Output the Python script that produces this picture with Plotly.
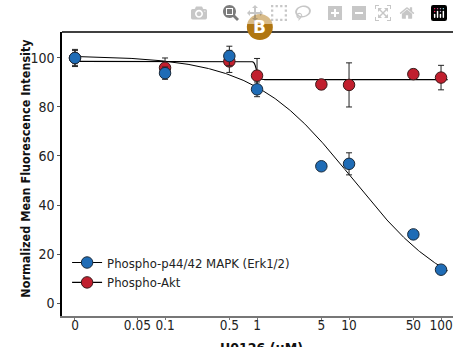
import numpy as np
import plotly.graph_objects as go

# ---- data ----
conc_labels = ["0", "0.1", "0.5", "1", "5", "10", "50", "100"]
conc = [0, 0.1, 0.5, 1, 5, 10, 50, 100]
mapk = [100.0, 93.8, 100.8, 87.2, 55.8, 56.8, 28.0, 13.6]
mapk_err = [3.5, 2.5, 4.0, 3.0, 1.0, 4.5, 1.5, 1.5]
akt = [100.0, 96.0, 98.6, 92.8, 89.2, 89.0, 93.4, 92.0]
akt_err = [3.0, 4.0, 4.5, 7.0, 2.0, 9.0, 2.0, 5.0]

tick_vals_um = [0, 0.05, 0.1, 0.5, 1, 5, 10, 50, 100]
tick_text = ["0", "0.05", "0.1", "0.5", "1", "5", "10", "50", "100"]
y_ticks = [0, 20, 40, 60, 80, 100]

# fitted curve parameters (4PL)
mapk_fit = dict(top=101.0, bottom=0.0, ic50=11.0, hill=0.8)
akt_fit = dict(top=98.6, bottom=91.2, ic50=0.985, hill=40.0)

ZERO_POS = 0.0105  # where "0" sits on the log axis
BLUE = "#1f6cb6"
RED = "#c11f2e"
FONT = "DejaVu Sans Condensed, Liberation Sans Narrow, sans-serif"


def pos(v):
    return ZERO_POS if v == 0 else v


def logistic(x, p):
    return p["bottom"] + (p["top"] - p["bottom"]) / (1 + (x / p["ic50"]) ** p["hill"])


xs = np.logspace(np.log10(ZERO_POS), np.log10(118), 400)

fig = go.Figure()
fig.add_trace(go.Scatter(x=xs, y=logistic(xs, mapk_fit), mode="lines",
                         line=dict(color="black", width=1), showlegend=False, hoverinfo="skip"))
fig.add_trace(go.Scatter(x=xs, y=logistic(xs, akt_fit), mode="lines",
                         line=dict(color="black", width=1.2), showlegend=False, hoverinfo="skip"))

xp = [pos(v) for v in conc]
fig.add_trace(go.Scatter(x=xp, y=akt, mode="markers",
                         marker=dict(color=RED, size=11.5, line=dict(color="#3a1a1a", width=1)),
                         error_y=dict(type="data", array=akt_err, color="#222", thickness=1, width=3),
                         showlegend=False))
fig.add_trace(go.Scatter(x=xp, y=mapk, mode="markers",
                         marker=dict(color=BLUE, size=11.5, line=dict(color="#1a2a3a", width=1)),
                         error_y=dict(type="data", array=mapk_err, color="#222", thickness=1, width=3),
                         showlegend=False))

# legend entries
fig.add_trace(go.Scatter(x=[None], y=[None], mode="lines+markers", name="Phospho-p44/42 MAPK (Erk1/2)",
                         line=dict(color="black", width=1.2),
                         marker=dict(color=BLUE, size=11.5, line=dict(color="#1a2a3a", width=1))))
fig.add_trace(go.Scatter(x=[None], y=[None], mode="lines+markers", name="Phospho-Akt",
                         line=dict(color="black", width=1.2),
                         marker=dict(color=RED, size=11.5, line=dict(color="#3a1a1a", width=1))))

# top border line
fig.add_shape(type="line", xref="paper", yref="paper", x0=0, x1=1, y0=1, y1=1,
              line=dict(color="black", width=1.5))
# badge
fig.add_shape(type="circle", xref="paper", yref="paper", xsizemode="pixel", ysizemode="pixel",
              xanchor=0.506, yanchor=1.0176, x0=-13, x1=13, y0=-13, y1=13,
              fillcolor="#b07612", line=dict(width=0))
fig.add_annotation(x=0.506, y=1.0176, xref="paper", yref="paper", text="<b>B</b>", showarrow=False,
                   xanchor="center", yanchor="middle",
                   font=dict(family="DejaVu Sans, sans-serif", size=17, color="white"))
# axis titles
fig.add_annotation(x=0.5115, y=-0.077, xref="paper", yref="paper", text="<b>U0126 (μM)</b>",
                   showarrow=False, xanchor="center", yanchor="top",
                   font=dict(family=FONT, size=14, color="#111"))
fig.add_annotation(x=-0.092, y=0.519, xref="paper", yref="paper",
                   text="<b>Normalized Mean Fluorescence Intensity</b>", textangle=-90,
                   showarrow=False, xanchor="center", yanchor="middle",
                   font=dict(family=FONT, size=12.5, color="#111"))

fig.update_layout(
    width=453, height=347,
    margin=dict(l=62, r=0, t=32, b=31, autoexpand=False),
    paper_bgcolor="white", plot_bgcolor="white",
    font=dict(family=FONT, size=14, color="#222"),
    legend=dict(x=0.013, y=0.241, xanchor="left", yanchor="top", font=dict(size=13, color="#222"),
                bgcolor="rgba(0,0,0,0)", tracegroupgap=0),
    xaxis=dict(type="log", range=[-2.12, 2.13], tickvals=[pos(v) for v in tick_vals_um], ticktext=tick_text,
               showgrid=False, zeroline=False, showline=True, linecolor="#777", linewidth=2,
               ticks="outside", ticklen=2, tickcolor="#777", tickfont=dict(size=13.5), tickangle=0,
               automargin=False, ticklabelstandoff=-6, ticklabeloverflow="allow"),
    yaxis=dict(range=[-5.3, 110.6], tickvals=y_ticks, showgrid=False, zeroline=False, automargin=False,
               showline=True, linecolor="black", linewidth=1.5, ticks="outside", ticklen=3,
               tickcolor="#555", tickfont=dict(size=14)),
)

fig.write_html("out.html",
               post_script="document.documentElement.style.overflow='hidden';"
                           "document.body.style.margin='0';"
                           "document.body.style.overflow='hidden';")
